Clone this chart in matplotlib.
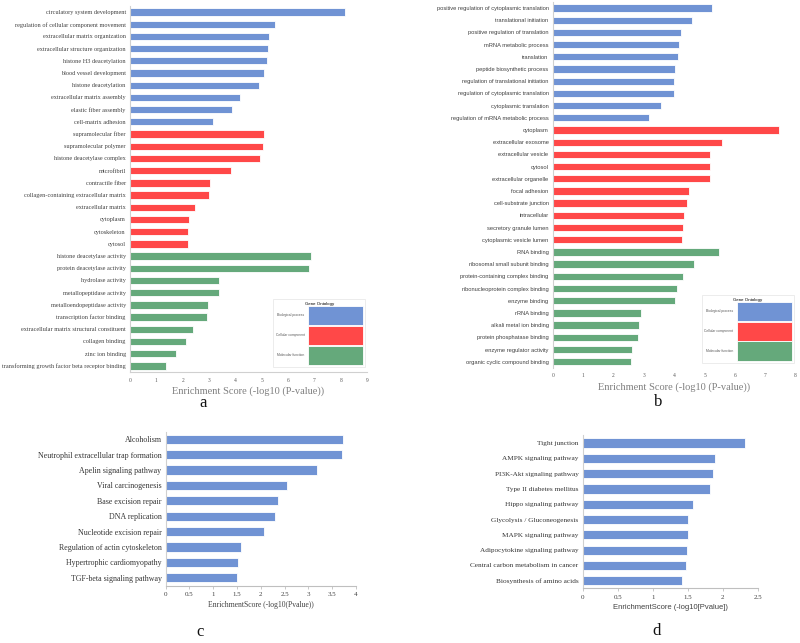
import matplotlib
matplotlib.use("Agg")
import matplotlib.pyplot as plt
from matplotlib.patches import Patch
import numpy as np

plt.rcParams.update(
    {
        "font.family": "Liberation Serif",
        "axes.linewidth": 0.8,
    }
)

# GO terms, panel a
a_terms = [
    "circulatory system development",
    "regulation of cellular component movement",
    "extracellular matrix organization",
    "extracellular structure organization",
    "histone H3 deacetylation",
    "blood vessel development",
    "histone deacetylation",
    "extracellular matrix assembly",
    "elastic fiber assembly",
    "cell-matrix adhesion",
    "supramolecular fiber",
    "supramolecular polymer",
    "histone deacetylase complex",
    "microfibril",
    "contractile fiber",
    "collagen-containing extracellular matrix",
    "extracellular matrix",
    "cytoplasm",
    "cytoskeleton",
    "cytosol",
    "histone deacetylase activity",
    "protein deacetylase activity",
    "hydrolase activity",
    "metallopeptidase activity",
    "metalloendopeptidase activity",
    "transcription factor binding",
    "extracellular matrix structural constituent",
    "collagen binding",
    "zinc ion binding",
    "transforming growth factor beta receptor binding",
]
a_scores = [8.17, 5.52, 5.27, 5.25, 5.22, 5.10, 4.91, 4.18, 3.86, 3.14,
            5.10, 5.06, 4.94, 3.85, 3.05, 2.99, 2.46, 2.23, 2.21, 2.20,
            6.86, 6.80, 3.39, 3.37, 2.96, 2.92, 2.41, 2.11, 1.75, 1.37]

# GO terms, panel b
b_terms = [
    "positive regulation of cytoplasmic translation",
    "translational initiation",
    "positive regulation of translation",
    "mRNA metabolic process",
    "translation",
    "peptide biosynthetic process",
    "regulation of translational initiation",
    "regulation of cytoplasmic translation",
    "cytoplasmic translation",
    "regulation of mRNA metabolic process",
    "cytoplasm",
    "extracellular exosome",
    "extracellular vesicle",
    "cytosol",
    "extracellular organelle",
    "focal adhesion",
    "cell-substrate junction",
    "intracellular",
    "secretory granule lumen",
    "cytoplasmic vesicle lumen",
    "RNA binding",
    "ribosomal small subunit binding",
    "protein-containing complex binding",
    "ribonucleoprotein complex binding",
    "enzyme binding",
    "rRNA binding",
    "alkali metal ion binding",
    "protein phosphatase binding",
    "enzyme regulator activity",
    "organic cyclic compound binding",
]
b_scores = [5.24, 4.58, 4.21, 4.15, 4.13, 4.01, 4.00, 3.98, 3.56, 3.18,
            7.45, 5.57, 5.19, 5.19, 5.19, 4.49, 4.42, 4.32, 4.30, 4.27,
            5.46, 4.64, 4.30, 4.09, 4.03, 2.90, 2.84, 2.81, 2.60, 2.57]

go_groups = ["Biological process"] * 10 + ["Cellular component"] * 10 + ["Molecular function"] * 10

# KEGG pathways, panel c
c_terms = [
    "Alcoholism",
    "Neutrophil extracellular trap formation",
    "Apelin signaling pathway",
    "Viral carcinogenesis",
    "Base excision repair",
    "DNA replication",
    "Nucleotide excision repair",
    "Regulation of actin cytoskeleton",
    "Hypertrophic cardiomyopathy",
    "TGF-beta signaling pathway",
]
c_scores = [3.73, 3.70, 3.19, 2.56, 2.37, 2.30, 2.07, 1.59, 1.53, 1.50]

# KEGG pathways, panel d
d_terms = [
    "Tight junction",
    "AMPK signaling pathway",
    "PI3K-Akt signaling pathway",
    "Type II diabetes mellitus",
    "Hippo signaling pathway",
    "Glycolysis / Gluconeogenesis",
    "MAPK signaling pathway",
    "Adipocytokine signaling pathway",
    "Central carbon metabolism in cancer",
    "Biosynthesis of amino acids",
]
d_scores = [2.32, 1.89, 1.86, 1.82, 1.58, 1.51, 1.50, 1.49, 1.47, 1.42]

group_colors = {
    "Biological process": "#7093d4",
    "Cellular component": "#ff4848",
    "Molecular function": "#65a97b",
}
blue = "#7093d4"
axis_gray = "#d0d0d0"

fig = plt.figure(figsize=(8, 6.43), dpi=100)


def go_panel(rect, terms, scores, xmax, label_font, label_size, with_bottom):
    ax = fig.add_axes(rect)
    y = np.arange(len(terms))
    colors = [group_colors[g] for g in go_groups]
    ax.barh(y, scores, height=0.6, color=colors, edgecolor="#ffffff", linewidth=0.6)
    ax.set_ylim(len(terms) - 0.5, -0.5)
    ax.set_xlim(0, xmax)
    ax.set_yticks(y)
    ax.set_yticklabels(terms, family=label_font, fontsize=label_size, color="#404040")
    ax.set_xticks(range(0, xmax + 1))
    ax.tick_params(axis="both", length=0, pad=3)
    ax.tick_params(axis="x", labelsize=4, labelcolor="#595959", pad=4)
    for s in ["top", "right"]:
        ax.spines[s].set_visible(False)
    ax.spines["left"].set_color(axis_gray)
    ax.spines["bottom"].set_color(axis_gray)
    ax.spines["bottom"].set_visible(with_bottom)
    ax.set_xlabel("Enrichment Score (-log10 (P-value))", fontsize=7.5,
                  color="#7f7f7f", labelpad=3)
    handles = [Patch(facecolor=group_colors[g], edgecolor="#ffffff", linewidth=0.6, label=g)
               for g in group_colors]
    leg = ax.legend(handles=handles, loc="lower right", bbox_to_anchor=(1.0, 0.008),
                    title="Gene Ontology", title_fontsize=3.2,
                    markerfirst=False, handlelength=16.5, handleheight=8.6,
                    labelspacing=0.1, handletextpad=1.0, borderpad=0.7,
                    frameon=True, fancybox=False, edgecolor="#e3e3e3",
                    prop={"family": "Liberation Sans", "size": 2.4})
    leg.get_frame().set_linewidth(0.6)
    leg.get_title().set_family("Liberation Sans")
    for t in leg.get_texts():
        t.set_color("#595959")
    return ax


def kegg_panel(rect, terms, scores, ticks, label_size, xlabel, xlabel_font):
    ax = fig.add_axes(rect)
    y = np.arange(len(terms))
    ax.barh(y, scores, height=0.6, color=blue, edgecolor="#ffffff", linewidth=0.6)
    ax.set_ylim(len(terms) - 0.5, -0.5)
    ax.set_xlim(ticks[0], ticks[-1])
    ax.set_yticks(y)
    ax.set_yticklabels(terms, fontsize=label_size, color="#333333")
    ax.set_xticks(ticks)
    ax.set_xticklabels([f"{t:g}" for t in ticks], fontsize=5, color="#404040")
    ax.tick_params(axis="y", length=0, pad=3)
    ax.tick_params(axis="x", length=2.5, width=0.6, color="#bfbfbf", pad=2)
    for s in ["top", "right"]:
        ax.spines[s].set_visible(False)
    ax.spines["left"].set_color(axis_gray)
    ax.spines["bottom"].set_color("#bfbfbf")
    ax.set_xlabel(xlabel, fontsize=5.5, family=xlabel_font, color="#404040", labelpad=3)
    return ax


go_panel([0.1625, 0.4215, 0.2963, 0.5693], a_terms, a_scores, 9,
         "Liberation Serif", 4.5, True)
go_panel([0.6909, 0.428, 0.3037, 0.569], b_terms, b_scores, 8,
         "Liberation Sans", 4.15, False)
kegg_panel([0.2071, 0.0894, 0.2379, 0.2394], c_terms, c_scores,
           [0, 0.5, 1, 1.5, 2, 2.5, 3, 3.5, 4], 5.7,
           "EnrichmentScore (-log10(Pvalue))", "Liberation Serif")
kegg_panel([0.7284, 0.0848, 0.2188, 0.2382], d_terms, d_scores,
           [0, 0.5, 1, 1.5, 2, 2.5], 5.2,
           "EnrichmentScore (-log10[Pvalue])", "Liberation Sans")

for lab, x, y in [("a", 203, 403), ("b", 658, 402), ("c", 200, 632), ("d", 657, 631)]:
    fig.text(x / 800, 1 - y / 643, lab, fontsize=12, ha="center", va="center",
             color="#111111")

fig.savefig("out.png", dpi=100)
